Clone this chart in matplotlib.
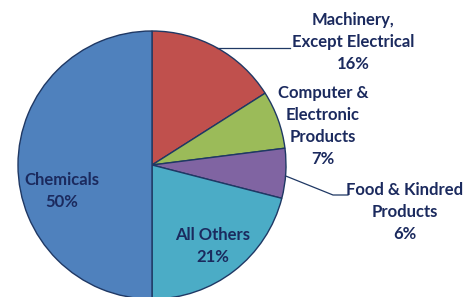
import numpy as np
import matplotlib
matplotlib.use("Agg")
import matplotlib.pyplot as plt

categories = ["Machinery,\nExcept Electrical", "Computer &\nElectronic\nProducts",
              "Food & Kindred\nProducts", "All Others", "Chemicals"]
values = [16, 7, 6, 21, 50]
colors = ["#C0504D", "#9BBB59", "#8064A2", "#4BACC6", "#4F81BD"]

W, H = 477, 297
fig = plt.figure(figsize=(W / 100, H / 100), dpi=100)
ax = fig.add_axes([0, 0, 1, 1])
ax.set_xlim(0, W)
ax.set_ylim(0, H)
ax.set_aspect("equal")
ax.axis("off")

cx, cy, r = 152, H - 165, 134
wedges, _ = ax.pie(values, colors=colors, startangle=90, counterclock=False,
                   center=(cx, cy), radius=r,
                   wedgeprops=dict(edgecolor="#1F3864", linewidth=1.0))
ax.set_xlim(0, W)
ax.set_ylim(0, H)

tc = "#1B2A5E"
font = dict(family=["Lato", "DejaVu Sans"], fontweight="bold",
            fontsize=12, color=tc, ha="center", va="center", linespacing=1.45)

# label positions in pixel coordinates (x, y from top)
pos = [(353, 42), (323, 126), (405, 212), (213, 246), (62, 191)]
for cat, v, (x, y) in zip(categories, values, pos):
    ax.text(x, H - y, f"{cat}\n{v}%", **font)

def edge_point(w, frac=0.5):
    a = np.deg2rad(w.theta1 + (w.theta2 - w.theta1) * frac)
    return cx + r * np.cos(a), cy + r * np.sin(a)

# leader lines
p = edge_point(wedges[0], 0.5)
ax.plot([p[0], 290], [p[1], p[1]], color="#1F3864", lw=0.9)
p = edge_point(wedges[2], 0.45)
ax.plot([p[0], 333, 348], [p[1], H - 195, H - 195], color="#1F3864", lw=0.9)

fig.savefig("out.png", dpi=100)
